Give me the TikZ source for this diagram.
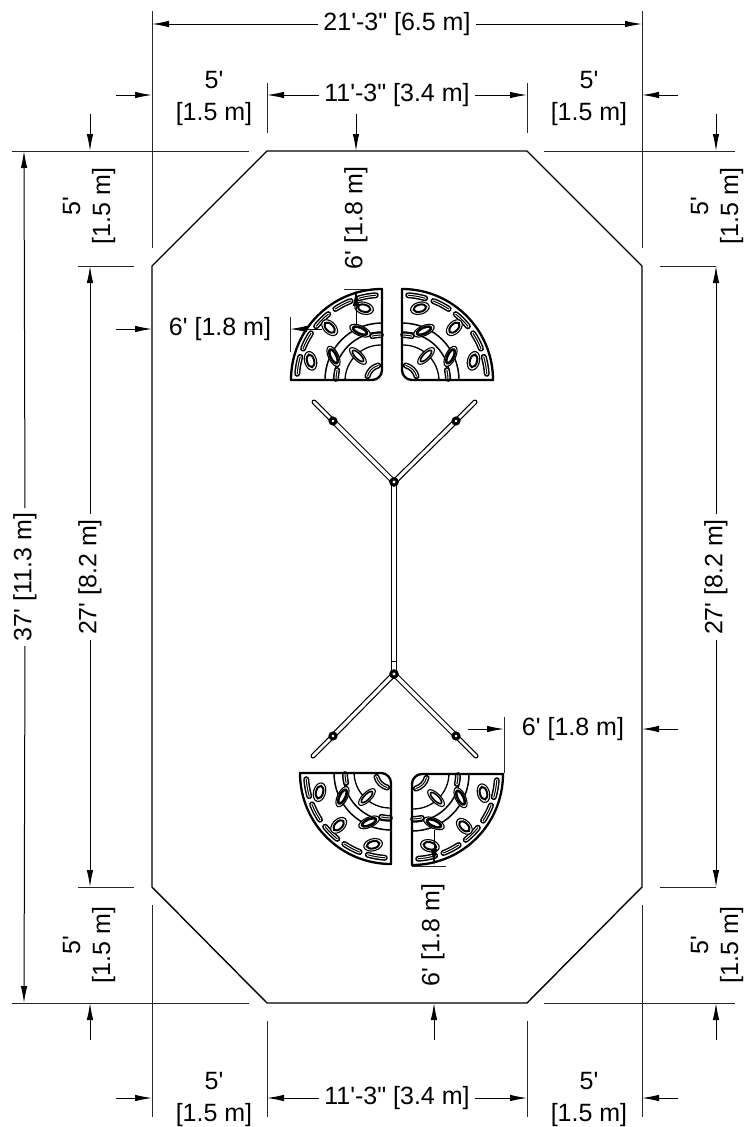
\documentclass[tikz,border=0pt]{standalone}
\usepackage{fontspec}
\newfontfamily\labfont{Liberation Sans}
\usetikzlibrary{arrows.meta}
\tikzset{
  lab/.style={font=\labfont\fontsize{25}{32}\selectfont,inner sep=0pt,outer sep=5pt,align=center},
  vlab/.style={lab,font=\labfont\fontsize{25}{30}\selectfont,rotate=90},
  dim/.style={line width=1pt,black,-{Latex[length=17pt,width=6.5pt]}},
  ext/.style={line width=1pt,black!85},
  wall/.style={line width=1.4pt,black},
  outl/.style={line width=2.3pt,black},
  thin/.style={line width=1pt,black},
}
\newcommand{\mkslot}[3]{% angle, radius, half span
  \draw[line width=6pt,line cap=round] (#1-#3:#2) arc[start angle=#1-#3,end angle=#1+#3,radius=#2];
  \draw[line width=3pt,line cap=round,white] (#1-#3:#2) arc[start angle=#1-#3,end angle=#1+#3,radius=#2];
  \draw[line width=1pt,line cap=round] (#1-#3:#2) arc[start angle=#1-#3,end angle=#1+#3,radius=#2];
}
\newcommand{\mkoval}[5]{% angle, radius, long, short, core
  \begin{scope}[shift={(#1:#2)},rotate=#1]
    \draw[line width=1.1pt,fill=white] (0,0) ellipse[x radius=#4,y radius=#3];
    \draw[line width=#5,fill=white] (0,0) ellipse[x radius=#4*.6,y radius=#3*.68];
  \end{scope}
}
\newcommand{\quadrantshape}{%
  \draw[thin,line width=1.5pt] (0,57) arc[start angle=90,end angle=180,radius=57];
  \draw[thin,line width=1.5pt] (0,48) arc[start angle=90,end angle=180,radius=48];
  \draw[thin,line width=1.3pt] (-1,35) arc[start angle=90,end angle=180,radius=36];
  \foreach \a in {100,117.5,135,152.5,170}{\mkslot{\a}{85}{5.8}}
  \foreach \a in {104,135,165}{\mkoval{\a}{74}{9.5}{6}{2pt}}
  \foreach \a in {114,154}{\mkoval{\a}{54}{11}{5}{2.6pt}}
  \mkoval{135}{34}{11}{4.5}{1.6pt}
  \mkslot{97}{45}{5.5}
  \mkslot{173}{46}{5.5}
  \mkslot{135}{15}{30}
  \draw[outl,line join=round] (0,91) -- (0,10) arc[start angle=0,end angle=-90,radius=10] -- (-91,0)
     arc[start angle=180,end angle=90,radius=91] -- cycle;
}
\newcommand{\spar}[3]{% from, to, width
  \draw[line width=#3] (#1) -- (#2);
  \draw[line width=#3-2.4pt,white] (#1) -- (#2);
}
\begin{document}
\begin{tikzpicture}[x=1pt,y=-1pt]
\useasboundingbox (0,0) rectangle (745,1127);
% corners of the octagon
\coordinate (A) at (267,151); \coordinate (B) at (527,151);
\coordinate (C) at (642,266); \coordinate (D) at (642,887);
\coordinate (E) at (527,1003); \coordinate (F) at (267,1003);
\coordinate (G) at (152,887); \coordinate (H) at (152,266);
\draw[wall,line join=miter] (A)--(B)--(C)--(D)--(E)--(F)--(G)--(H)--cycle;
% extension lines
\draw[ext] (152,11) -- (152,248);
\draw[ext] (642,11) -- (642,248);
\draw[ext] (267,83) -- (267,133);
\draw[ext] (527,83) -- (527,133);
\draw[ext] (12,151) -- (249,151);
\draw[ext] (544,151) -- (735,151);
\draw[ext] (78,266) -- (134,266);
\draw[ext] (660,266) -- (716,266);
\draw[ext] (78,887) -- (134,887);
\draw[ext] (660,887) -- (716,887);
\draw[ext] (12,1003) -- (249,1003);
\draw[ext] (544,1003) -- (735,1003);
\draw[ext] (152,905) -- (152,1117);
\draw[ext] (642,905) -- (642,1117);
\draw[ext] (267,1021) -- (267,1117);
\draw[ext] (527,1021) -- (527,1117);
\draw[ext] (344,289) -- (368,289);
\draw[ext] (290,317) -- (290,352);
\draw[ext] (504,717) -- (504,773);
\draw[ext] (412,866) -- (446,866);
% labels
\node[lab] (tw) at (397,24) {21'-3" [6.5 m]};
\node[lab] (tm) at (397,95) {11'-3" [3.4 m]};
\node[lab] (bm) at (397,1098) {11'-3" [3.4 m]};
\node[lab] (tl) at (214,98) {5'\\{}[1.5 m]};
\node[lab] (tr) at (589,98) {5'\\{}[1.5 m]};
\node[lab] (bl) at (214,1099.5) {5'\\{}[1.5 m]};
\node[lab] (br) at (589,1099.5) {5'\\{}[1.5 m]};
\node[vlab] (lt) at (89,206) {5'\\{}[1.5 m]};
\node[vlab] (lb) at (89,945) {5'\\{}[1.5 m]};
\node[vlab] (rt) at (717,206) {5'\\{}[1.5 m]};
\node[vlab] (rb) at (717,945) {5'\\{}[1.5 m]};
\node[vlab] (ov) at (25,577) {37' [11.3 m]};
\node[vlab] (ll) at (90,577) {27' [8.2 m]};
\node[vlab] (rl) at (716,577) {27' [8.2 m]};
\node[vlab] (tq) at (356,218) {6' [1.8 m]};
\node[vlab] (bq) at (433,935) {6' [1.8 m]};
\node[lab] (lq) at (220,329) {6' [1.8 m]};
\node[lab] (rq) at (573,729) {6' [1.8 m]};
% free ends of the dimension arrows
\foreach \n/\x/\y in {a1/116/95,a2/678/95,a3/116/1098,a4/678/1098,a5/116/329,a6/678/729,
  b1/90/114,b2/90/1040,b3/716/114,b4/716/1040,b5/356/114,b6/434/1040,
  c1/322/329,c2/468/729,c3/356/325,c4/434/830}{\coordinate (\n) at (\x,\y);}
% horizontal arrows
\draw[dim] (tw.west) -- (152,24);
\draw[dim] (tw.east) -- (642,24);
\draw[dim] (tm.west) -- (267,95);
\draw[dim] (tm.east) -- (527,95);
\draw[dim] (bm.west) -- (267,1098);
\draw[dim] (bm.east) -- (527,1098);
\draw[dim] (a1) -- (152,95);
\draw[dim] (a2) -- (642,95);
\draw[dim] (a3) -- (152,1098);
\draw[dim] (a4) -- (642,1098);
\draw[dim] (a5) -- (152,329);
\draw[dim] (c2) -- (504,729);
\draw[dim] (a6) -- (642,729);
% vertical arrows
\draw[dim] (ov.east) -- (24,151);
\draw[dim] (ov.west) -- (24,1003);
\draw[dim] (ll.east) -- (90,266);
\draw[dim] (ll.west) -- (90,887);
\draw[dim] (rl.east) -- (716,266);
\draw[dim] (rl.west) -- (716,887);
\draw[dim] (b1) -- (90,151);
\draw[dim] (b2) -- (90,1003);
\draw[dim] (b3) -- (716,151);
\draw[dim] (b4) -- (716,1003);
\draw[dim] (b5) -- (356,151);
\draw[dim] (b6) -- (434,1003);
% quadrants
\begin{scope}[shift={(382,380)},yscale=-1]\quadrantshape\end{scope}
\begin{scope}[shift={(402,380)},yscale=-1,xscale=-1]\quadrantshape\end{scope}
\begin{scope}[shift={(391,773)}]\quadrantshape\end{scope}
\begin{scope}[shift={(412,774)},xscale=-1]\quadrantshape\end{scope}
% arrows drawn over the quadrants
\draw[dim] (c1) -- (290,329);
\draw[dim] (c3) -- (356,289);
\draw[dim] (c4) -- (434,866);
% frame
\coordinate (hubT) at (394,482); \coordinate (hubB) at (394,674);
\coordinate (jTL) at (333,421); \coordinate (jTR) at (456,421);
\coordinate (jBL) at (333,736); \coordinate (jBR) at (456,736);
\coordinate (eTL) at (314,402); \coordinate (eTR) at (475,402);
\coordinate (eBL) at (313,756); \coordinate (eBR) at (476,756);
\begin{scope}[line cap=round]
\spar{hubT}{hubB}{6pt}
\spar{hubT}{jTL}{5.6pt}\spar{hubT}{jTR}{5.6pt}
\spar{hubB}{jBL}{5.6pt}\spar{hubB}{jBR}{5.6pt}
\spar{jTL}{eTL}{5pt}\spar{jTR}{eTR}{5pt}
\spar{jBL}{eBL}{5pt}\spar{jBR}{eBR}{5pt}
\end{scope}
\draw[line width=1pt] (391,661) -- (397,661);
\foreach \p/\r in {hubT/3.2,hubB/3.2,jTL/3,jTR/3,jBL/3,jBR/3}{
  \draw[line width=3pt,fill=white] (\p) circle[radius=\r];
}
\end{tikzpicture}
\end{document}
